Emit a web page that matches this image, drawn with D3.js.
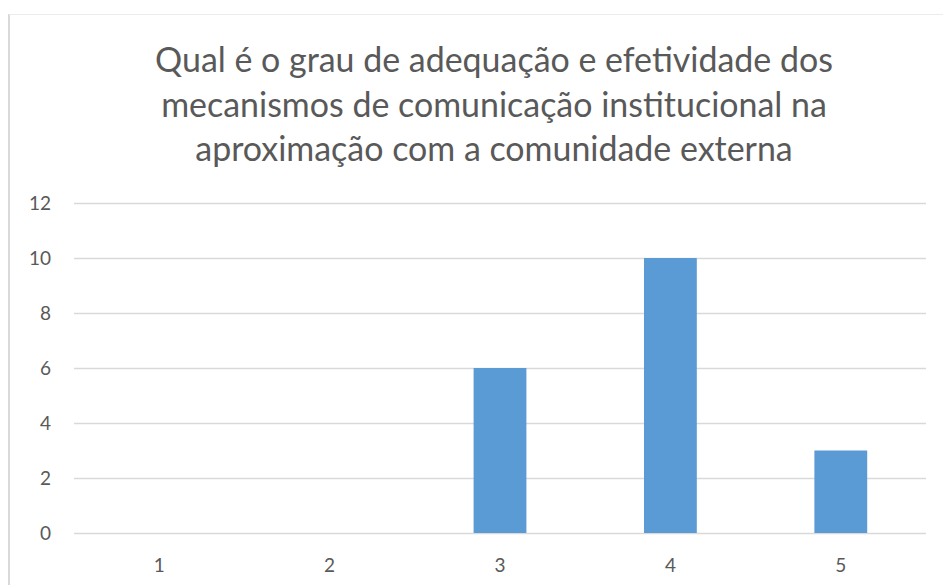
<!DOCTYPE html>
<html>
<head>
<meta charset="utf-8">
<script src="https://cdn.jsdelivr.net/npm/d3@7"></script>
<style>
  html, body { margin: 0; padding: 0; background: #fff; }
  svg { display: block; }
  text { font-family: Lato, "Open Sans", sans-serif; fill: #595959; }
</style>
</head>
<body>
<script>
// Chart data
const categories = ["1", "2", "3", "4", "5"];
const counts = [0, 0, 6, 10, 3];
const yTicks = [0, 2, 4, 6, 8, 10, 12];
const titleLines = [
  "Qual é o grau de adequação e efetividade dos",
  "mecanismos de comunicação institucional na",
  "aproximação com a comunidade externa"
];

const W = 943, H = 585;
const plot = { left: 74, right: 926, top: 203, bottom: 533 };
const tickFont = "19px";

const svg = d3.select("body").append("svg")
  .attr("width", W).attr("height", H);

// Chart-area frame
svg.append("line").attr("x1", 9).attr("x2", 9).attr("y1", 14).attr("y2", H)
  .attr("stroke", "#d9d9d9").attr("stroke-width", 2);
svg.append("line").attr("x1", 9).attr("x2", W).attr("y1", 14.5).attr("y2", 14.5)
  .attr("stroke", "#ececec").attr("stroke-width", 1);

// Title, sized so the first line spans the intended width
const title = svg.append("g");
const baselines = [72, 116.5, 161];
const titleSize = 31;
titleLines.forEach((t, i) => {
  title.append("text")
    .attr("x", 494).attr("y", baselines[i])
    .attr("text-anchor", "middle")
    .style("font-size", titleSize + "px")
    .text(t);
});
const firstLen = title.select("text").node().getComputedTextLength();
const fitted = titleSize * 678 / firstLen;
title.selectAll("text").style("font-size", fitted + "px");

// Scales
const x = d3.scaleBand().domain(categories)
  .range([plot.left, plot.right])
  .paddingInner(0.69).paddingOuter(0.345);
const y = d3.scaleLinear().domain([0, 12]).range([plot.bottom, plot.top]);

// Gridlines
svg.append("g").selectAll("line").data(yTicks).join("line")
  .attr("x1", plot.left).attr("x2", plot.right)
  .attr("y1", d => Math.round(y(d)) + 0.5).attr("y2", d => Math.round(y(d)) + 0.5)
  .attr("stroke", "#d9d9d9").attr("stroke-width", 1.3);

// Y axis labels
const yAxis = svg.append("g").attr("transform", `translate(51,0)`)
  .call(d3.axisLeft(y).tickValues(yTicks).tickSize(0).tickPadding(0));
yAxis.attr("font-size", null).attr("font-family", null);
yAxis.select(".domain").remove();
yAxis.selectAll("text")
  .attr("dy", "0.36em").attr("fill", "#595959")
  .style("font-size", tickFont);

// Bars
svg.append("g").selectAll("rect").data(counts).join("rect")
  .attr("x", (d, i) => x(categories[i]))
  .attr("width", x.bandwidth())
  .attr("y", d => y(d))
  .attr("height", d => y(0) - y(d))
  .attr("fill", "#5b9bd5");

// X axis labels
const xAxis = svg.append("g").attr("transform", `translate(0,572)`)
  .call(d3.axisBottom(x).tickSize(0).tickPadding(0));
xAxis.attr("font-size", null).attr("font-family", null);
xAxis.select(".domain").remove();
xAxis.selectAll("text")
  .attr("y", 0).attr("dy", 0).attr("fill", "#595959")
  .style("font-size", tickFont);
</script>
</body>
</html>
